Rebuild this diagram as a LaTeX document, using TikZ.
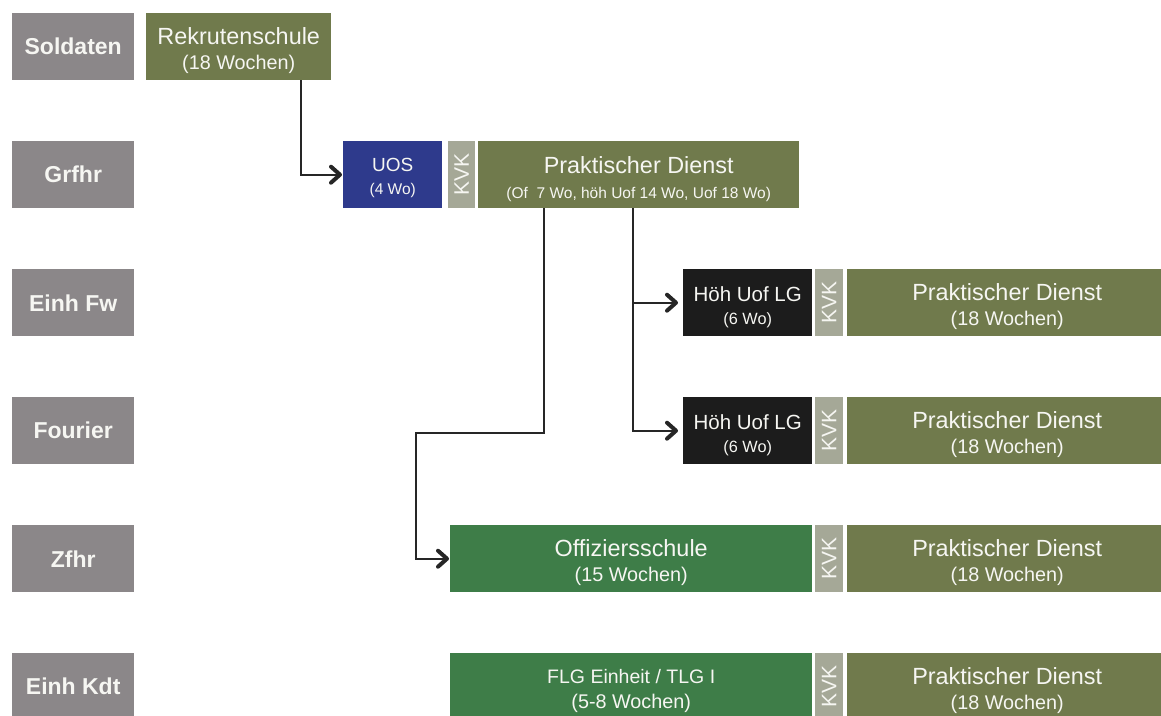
\documentclass[tikz,border=0pt]{standalone}
\usepackage{fontspec}
\usepackage{graphicx}
\setmainfont{Liberation Sans}
\usetikzlibrary{arrows.meta}
\definecolor{labgray}{HTML}{8B8789}
\definecolor{olive}{HTML}{707A4C}
\definecolor{uosblue}{HTML}{2E3A8C}
\definecolor{lgblack}{HTML}{1C1C1C}
\definecolor{kvkgray}{HTML}{A5A897}
\definecolor{schoolgreen}{HTML}{3E7D48}
\definecolor{txtw}{HTML}{F6F6F2}
\definecolor{linec}{HTML}{262626}
\newcommand\subtxt{\fontsize{19.8}{25}\selectfont}
\newcommand\smalltxt{\fontsize{15.5}{23}\selectfont}
\newcommand\topstrut[1]{\rule{0pt}{#1}}
\begin{document}
\begin{tikzpicture}[x=1pt,y=-1pt,
  basebox/.style={anchor=north west, inner sep=0pt, minimum height=67pt, text=txtw, align=center, font=\fontsize{23.4}{25}\selectfont},
  labbox/.style={basebox, fill=labgray, minimum width=122pt, font=\fontsize{23}{25}\selectfont\bfseries},
  olivebox/.style={basebox, fill=olive},
  bluebox/.style={basebox, fill=uosblue},
  blackbox/.style={basebox, fill=lgblack},
  greenbox/.style={basebox, fill=schoolgreen},
  kvkbox/.style={basebox, fill=kvkgray, minimum width=28pt, font=\fontsize{21}{21}\selectfont},
  conn/.style={draw=linec, line width=2pt, -{Straight Barb[length=9pt,width=16pt,line width=2pt 1,round]}}
]
\useasboundingbox (0,0) rectangle (1161,715);
\clip (0,0) rectangle (1161,715);

% row labels
\node[labbox] (l1) at (12,13) {Soldaten};
\node[labbox] (l2) at (12,141) {Grfhr};
\node[labbox] (l3) at (12,269) {Einh Fw};
\node[labbox] (l4) at (12,397) {Fourier};
\node[labbox] (l5) at (12,525) {Zfhr};
\node[labbox] (l6) at (12,653) {Einh Kdt};

% row 1
\node[olivebox, minimum width=185pt] (rek) at (146,13) {\topstrut{25pt}Rekrutenschule\\{\subtxt (18 Wochen)}};

% row 2
\node[bluebox, minimum width=99pt, font=\fontsize{19}{23}\selectfont] (uos) at (343,141) {\topstrut{19.6pt}UOS\\{\smalltxt (4 Wo)}};
\node[kvkbox, minimum width=27pt] (k1) at (448,141) {\rotatebox{90}{KVK}};
\node[olivebox, minimum width=321pt] (pd1) at (478,141) {\topstrut{25pt}Praktischer Dienst\\{\smalltxt (Of\ \ 7 Wo, höh Uof 14 Wo, Uof 18 Wo)}};

% row 3
\node[blackbox, minimum width=129pt, font=\fontsize{20.5}{23}\selectfont] (hoh1) at (683,269) {\topstrut{23pt}Höh Uof LG\\{\fontsize{16.3}{23}\selectfont (6 Wo)}};
\node[kvkbox] (k2) at (815,269) {\rotatebox{90}{KVK}};
\node[olivebox, minimum width=320pt] (pd2) at (847,269) {\topstrut{25.5pt}Praktischer Dienst\\{\subtxt (18 Wochen)}};

% row 4
\node[blackbox, minimum width=129pt, font=\fontsize{20.5}{23}\selectfont] (hoh2) at (683,397) {\topstrut{23pt}Höh Uof LG\\{\fontsize{16.3}{23}\selectfont (6 Wo)}};
\node[kvkbox] (k3) at (815,397) {\rotatebox{90}{KVK}};
\node[olivebox, minimum width=320pt] (pd3) at (847,397) {\topstrut{25.5pt}Praktischer Dienst\\{\subtxt (18 Wochen)}};

% row 5
\node[greenbox, minimum width=362pt] (offz) at (450,525) {\topstrut{24.5pt}Offiziersschule\\{\subtxt (15 Wochen)}};
\node[kvkbox] (k4) at (815,525) {\rotatebox{90}{KVK}};
\node[olivebox, minimum width=320pt] (pd4) at (847,525) {\topstrut{25.5pt}Praktischer Dienst\\{\subtxt (18 Wochen)}};

% row 6
\node[greenbox, minimum width=362pt, font=\fontsize{19.5}{25}\selectfont] (flg) at (450,653) {\topstrut{22pt}FLG Einheit / TLG I\\{\subtxt (5-8 Wochen)}};
\node[kvkbox] (k5) at (815,653) {\rotatebox{90}{KVK}};
\node[olivebox, minimum width=320pt] (pd5) at (847,653) {\topstrut{25.5pt}Praktischer Dienst\\{\subtxt (18 Wochen)}};

% connectors
\coordinate (r1) at ([xshift=-30pt]rek.south east);
\draw[conn, shorten >=1pt] (r1) |- (uos.west);

\coordinate (p1) at ([xshift=66pt]pd1.south west);
\coordinate (bend) at (416,433);
\draw[conn, shorten >=1pt] (p1) |- (bend) |- (offz.west);

\coordinate (p2) at ([xshift=155pt]pd1.south west);
\draw[conn, shorten >=5pt] (p2) |- (hoh2.west);
\draw[conn, shorten >=5pt] (p2 |- hoh1.west) -- (hoh1.west);
\end{tikzpicture}
\end{document}
